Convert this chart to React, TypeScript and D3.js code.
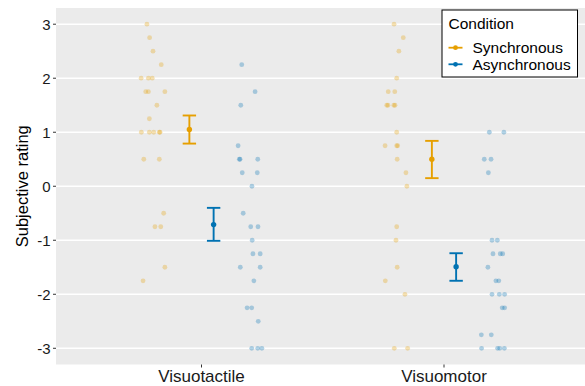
import React, { useRef, useEffect } from 'react';
import * as d3 from 'd3';

const conditions = ['Visuotactile', 'Visuomotor'];
const groups = ['Synchronous', 'Asynchronous'];
const groupColors = ['#E69F00', '#0072B2'];

// individual ratings + jitter (fraction of category width)
const vtSyncRatings = [3, 2.75, 2.5, 2.25, 2, 2, 2, 1.75, 1.75, 1.75, 1.5, 1.25, 1, 1, 1, 1, 1, 0.5, 0.5, -0.5, -0.75, -0.75, -1.5, -1.75];
const vtSyncJitter = [-0.025, -0.014, 0, 0.034, -0.049, -0.019, -0.003, -0.03, -0.019, 0.049, 0.016, -0.015, -0.048, -0.015, 0.003, 0.026, 0.029, -0.038, 0.026, 0.044, 0.008, 0.032, 0.049, -0.041];
const vtAsyncRatings = [2.25, 1.75, 1.5, 0.75, 0.5, 0.5, 0.5, 0.25, 0.25, 0, -0.5, -0.75, -0.75, -1, -1.25, -1.25, -1.5, -1.5, -1.75, -2.25, -2.25, -2.5, -3, -3, -3];
const vtAsyncJitter = [-0.034, 0.021, -0.038, -0.049, -0.044, -0.041, 0.032, -0.032, 0.03, 0.008, -0.028, 0.003, 0.033, 0.009, 0.012, 0.042, -0.04, 0.042, 0.016, -0.012, 0.007, 0.034, 0.007, 0.032, 0.049];
const vmSyncRatings = [3, 2.75, 2.5, 2, 1.75, 1.75, 1.5, 1.5, 1.5, 1.5, 1, 0.75, 0.75, 0.75, 0.5, 0.25, 0, -0.75, -1, -1.5, -1.75, -2, -3, -3];
const vmSyncJitter = [-0.006, 0.032, 0.014, 0.005, -0.03, -0.003, -0.036, -0.031, -0.007, -0.002, 0.005, -0.043, 0.005, 0.009, 0.007, 0.043, 0.047, 0.005, 0.002, 0.007, -0.042, 0.039, -0.005, 0.05];
const vmAsyncRatings = [1, 1, 0.5, 0.5, 0.25, -1, -1, -1.25, -1.25, -1.25, -1.5, -1.75, -1.75, -2, -2, -2, -2.25, -2.25, -2.75, -2.75, -3, -3, -3, -3];
const vmAsyncJitter = [-0.013, 0.047, -0.034, -0.006, -0.017, -0.002, 0.02, 0.002, 0.032, 0.042, -0.019, 0.014, 0.026, -0.002, 0.028, 0.05, 0.04, 0.05, -0.046, -0.005, -0.045, 0.021, 0.03, 0.049];

// mean +/- SE per condition
const syncMeans = [1.05, 0.5];
const syncLower = [0.79, 0.15];
const syncUpper = [1.31, 0.84];
const asyncMeans = [-0.71, -1.49];
const asyncLower = [-1.01, -1.75];
const asyncUpper = [-0.4, -1.24];

const yTicks = [-3, -2, -1, 0, 1, 2, 3];

const W = 585;
const H = 386;
const FONT = "'Liberation Sans', Arial, sans-serif";

const App = () => {
  const svgRef = useRef(null);

  useEffect(() => {
    const svg = d3.select(svgRef.current);
    svg.selectAll('*').remove();

    const panel = { left: 56, right: 589.5, top: 8, bottom: 364.5 };
    const x = d3.scaleLinear().domain([0.4, 2.6]).range([panel.left, panel.right]);
    const y = d3.scaleLinear().domain([-3.3, 3.3]).range([panel.bottom, panel.top]);

    // panel background + grid
    svg.append('rect')
      .attr('x', panel.left).attr('y', panel.top)
      .attr('width', W - panel.left).attr('height', panel.bottom - panel.top)
      .attr('fill', '#EBEBEB');

    svg.append('g').selectAll('line')
      .data(yTicks)
      .join('line')
      .attr('x1', panel.left).attr('x2', W)
      .attr('y1', d => y(d)).attr('y2', d => y(d))
      .attr('stroke', '#fff').attr('stroke-width', 1.5);

    // raw points
    const pointSets = [
      { c: 0, g: 0, v: vtSyncRatings, j: vtSyncJitter },
      { c: 0, g: 1, v: vtAsyncRatings, j: vtAsyncJitter },
      { c: 1, g: 0, v: vmSyncRatings, j: vmSyncJitter },
      { c: 1, g: 1, v: vmAsyncRatings, j: vmAsyncJitter },
    ];
    const pointDodge = [-0.2, 0.2];
    pointSets.forEach(set => {
      svg.append('g').selectAll('circle')
        .data(set.v.map((v, i) => ({ v, j: set.j[i] })))
        .join('circle')
        .attr('cx', d => x(set.c + 1 + pointDodge[set.g] + d.j))
        .attr('cy', d => y(d.v))
        .attr('r', 2.4)
        .attr('fill', groupColors[set.g])
        .attr('fill-opacity', 0.3);
    });

    // error bars
    const summary = [
      { g: 0, m: syncMeans, lo: syncLower, hi: syncUpper },
      { g: 1, m: asyncMeans, lo: asyncLower, hi: asyncUpper },
    ];
    const barDodge = [-0.05, 0.05];
    const capHalf = 6.7;
    summary.forEach(s => {
      conditions.forEach((_, c) => {
        const cx = x(c + 1 + barDodge[s.g]);
        const g = svg.append('g').attr('stroke', groupColors[s.g]).attr('stroke-width', 1.9);
        g.append('line').attr('x1', cx).attr('x2', cx).attr('y1', y(s.lo[c])).attr('y2', y(s.hi[c]));
        g.append('line').attr('x1', cx - capHalf).attr('x2', cx + capHalf).attr('y1', y(s.lo[c])).attr('y2', y(s.lo[c]));
        g.append('line').attr('x1', cx - capHalf).attr('x2', cx + capHalf).attr('y1', y(s.hi[c])).attr('y2', y(s.hi[c]));
        svg.append('circle').attr('cx', cx).attr('cy', y(s.m[c])).attr('r', 2.7).attr('fill', groupColors[s.g]);
      });
    });

    // y axis
    const yAxis = svg.append('g');
    yAxis.selectAll('line')
      .data(yTicks)
      .join('line')
      .attr('x1', panel.left - 3).attr('x2', panel.left)
      .attr('y1', d => y(d)).attr('y2', d => y(d))
      .attr('stroke', '#333').attr('stroke-width', 1);
    yAxis.selectAll('text')
      .data(yTicks)
      .join('text')
      .attr('x', panel.left - 5.5)
      .attr('y', d => y(d))
      .attr('dy', '0.36em')
      .attr('text-anchor', 'end')
      .attr('font-family', FONT).attr('font-size', 15).attr('fill', '#1a1a1a')
      .text(d => d);

    svg.append('text')
      .attr('transform', `translate(28, ${(panel.top + panel.bottom) / 2}) rotate(-90)`)
      .attr('text-anchor', 'middle')
      .attr('font-family', FONT).attr('font-size', 16.5).attr('fill', '#000')
      .text('Subjective rating');

    // x axis
    const xAxis = svg.append('g');
    xAxis.selectAll('line')
      .data(conditions)
      .join('line')
      .attr('x1', (_, i) => x(i + 1)).attr('x2', (_, i) => x(i + 1))
      .attr('y1', panel.bottom).attr('y2', panel.bottom + 3)
      .attr('stroke', '#333');
    xAxis.selectAll('text')
      .data(conditions)
      .join('text')
      .attr('x', (_, i) => x(i + 1))
      .attr('y', 382)
      .attr('text-anchor', 'middle')
      .attr('font-family', FONT).attr('font-size', 17).attr('fill', '#1a1a1a')
      .text(d => d);

    // legend
    const legend = svg.append('g').attr('transform', 'translate(442, 10)');
    legend.append('rect')
      .attr('width', 135.5).attr('height', 67)
      .attr('fill', '#fff').attr('stroke', '#000').attr('stroke-width', 1);
    legend.append('text')
      .attr('x', 6.5).attr('y', 19)
      .attr('font-family', FONT).attr('font-size', 15.5)
      .text('Condition');
    groups.forEach((name, i) => {
      const ky = 37.7 + i * 16.6;
      legend.append('line')
        .attr('x1', 6.5).attr('x2', 20.5).attr('y1', ky).attr('y2', ky)
        .attr('stroke', groupColors[i]).attr('stroke-width', 1.8);
      legend.append('circle')
        .attr('cx', 13.5).attr('cy', ky).attr('r', 2.4).attr('fill', groupColors[i]);
      legend.append('text')
        .attr('x', 30.5).attr('y', ky).attr('dy', '0.36em')
        .attr('font-family', FONT).attr('font-size', 15.5)
        .text(name);
    });
  }, []);

  return (
    <svg ref={svgRef} width={W} height={H}
      style={{ position: 'absolute', left: 0, top: 0, background: '#fff' }} />
  );
};

export default App;
